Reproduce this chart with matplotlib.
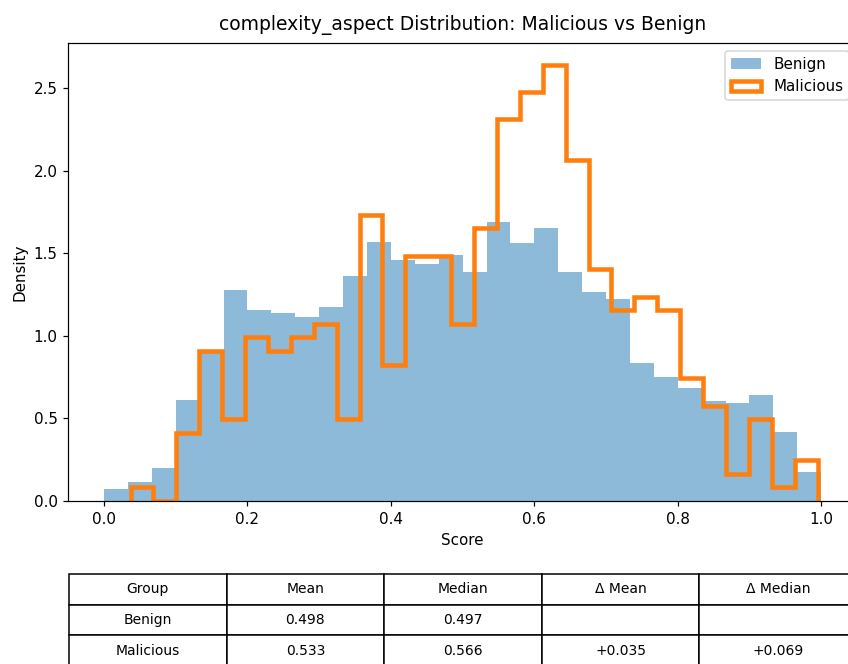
import numpy as np
import matplotlib
matplotlib.use("Agg")
import matplotlib.pyplot as plt

# Benign: 30 bins from 0.0 to 1.0 (density)
benign_range = (0.0, 1.0)
benign_density = [0.073, 0.117, 0.198, 0.611, 0.90, 1.277, 1.156, 1.14, 1.116, 1.172,
                  1.362, 1.570, 1.459, 1.435, 1.489, 1.384, 1.691, 1.564, 1.651, 1.384,
                  1.263, 1.221, 0.837, 0.753, 0.682, 0.605, 0.595, 0.642, 0.416, 0.174]

# Malicious: 30 bins from 0.037 to 0.995 (density)
malicious_range = (0.037, 0.995)
malicious_density = [0.0825, 0.0, 0.4125, 0.9075, 0.495, 0.99, 0.9075, 0.99, 1.0725, 0.495,
                     1.7325, 0.825, 1.485, 1.485, 1.0725, 1.65, 2.31, 2.475, 2.64, 2.0625,
                     1.4025, 1.155, 1.2375, 1.155, 0.7425, 0.5775, 0.165, 0.495, 0.0825, 0.2475]

col_labels = ["Group", "Mean", "Median", "Δ Mean", "Δ Median"]
table_rows = [["Benign", "0.498", "0.497", "", ""],
              ["Malicious", "0.533", "0.566", "+0.035", "+0.069"]]

title = "complexity_aspect Distribution: Malicious vs Benign"

DPI = 109
W, H = 848, 664
fig = plt.figure(figsize=(W / DPI, H / DPI), dpi=DPI)
ax = fig.add_axes([68.2 / W, 1 - 501 / H, (857 - 68.2) / W, (501 - 43) / H])

b_edges = np.linspace(benign_range[0], benign_range[1], len(benign_density) + 1)
m_edges = np.linspace(malicious_range[0], malicious_range[1], len(malicious_density) + 1)

ax.hist(b_edges[:-1], bins=b_edges, weights=benign_density, alpha=0.5,
        color="C0", label="Benign")
ax.hist(m_edges[:-1], bins=m_edges, weights=malicious_density, histtype="step",
        linewidth=3, color="C1", label="Malicious")

ax.set_title(title, fontsize=12.4, pad=8.5)
ax.set_xlabel("Score")
ax.set_ylabel("Density")
ax.legend(loc="upper right")

tax = fig.add_axes([69 / W, 1 - 666 / H, 788 / W, 92 / H])
tax.axis("off")
tbl = tax.table(cellText=table_rows, colLabels=col_labels, cellLoc="center",
                loc="center", bbox=[0, 0, 1, 1])
tbl.auto_set_font_size(False)
tbl.set_fontsize(9.2)

fig.savefig("out.png", dpi=DPI)
